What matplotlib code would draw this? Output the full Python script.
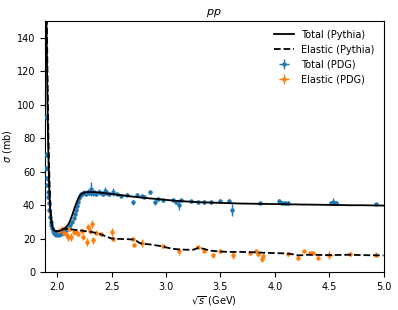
import matplotlib
matplotlib.use("Agg")
import matplotlib.pyplot as plt
import numpy as np

# Pythia curves
pythia_x = [1.895, 1.900, 1.905, 1.910, 1.915, 1.920, 1.925, 1.930, 1.935, 1.940,
            1.945, 1.950, 1.960, 1.970, 1.980, 1.990, 2.000, 2.020, 2.040, 2.060,
            2.080, 2.100, 2.120, 2.140, 2.160, 2.180, 2.200, 2.220, 2.240, 2.260,
            2.300, 2.350, 2.400, 2.450, 2.500, 2.550, 2.600, 2.650, 2.700, 2.730,
            2.760, 2.800, 2.850, 2.900, 2.950, 3.000, 3.050, 3.100, 3.150, 3.200,
            3.250, 3.300, 3.350, 3.400, 3.500, 3.600, 3.700, 3.800, 3.900, 4.000,
            4.100, 4.150, 4.200, 4.250, 4.300, 4.400, 4.500, 4.600, 4.700, 4.800,
            4.900, 5.000]
pythia_total = [200, 150, 125, 100, 80, 64, 52, 43, 37, 33,
                30, 28, 26, 25, 24.5, 24.3, 24.3, 24.5, 25.0, 25.8,
                26.8, 28.3, 31.0, 34.5, 38.5, 42.0, 44.8, 46.5, 47.3, 47.7,
                47.9, 47.7, 47.4, 47.0, 46.6, 46.2, 45.8, 45.4, 45.0, 44.8,
                44.6, 44.3, 44.0, 43.7, 43.4, 43.1, 42.8, 42.5, 42.3, 42.1,
                41.9, 41.7, 41.6, 41.5, 41.3, 41.1, 40.9, 40.8, 40.7, 40.6,
                40.5, 40.4, 40.4, 40.3, 40.3, 40.2, 40.1, 40.0, 39.9, 39.9,
                39.8, 39.7]
pythia_elastic = [230, 175, 145, 118, 95, 76, 62, 50, 42, 36,
                  32, 29, 26.5, 25.2, 24.6, 24.4, 24.4, 24.7, 25.2, 25.6,
                  25.8, 25.8, 25.6, 25.4, 25.2, 25.0, 24.9, 24.8, 24.6, 24.4,
                  24.1, 23.4, 22.5, 21.2, 20.0, 19.8, 19.7, 19.6, 19.4, 18.5,
                  17.2, 16.8, 16.5, 16.0, 15.5, 14.7, 14.0, 13.6, 13.4, 13.3,
                  13.3, 14.5, 13.8, 12.8, 12.2, 12.0, 12.0, 11.8, 11.5, 11.3,
                  11.1, 10.8, 10.0, 10.0, 10.3, 10.2, 10.1, 10.2, 10.3, 10.1,
                  10.0, 9.9]

# PDG total cross section
tot_x = [1.893, 1.897, 1.900, 1.903, 1.906, 1.910, 1.915, 1.920, 1.926, 1.932,
         1.938, 1.945, 1.952, 1.960, 1.970, 1.980, 1.990, 2.000, 2.010, 2.020,
         2.030, 2.045, 2.060, 2.075, 2.090, 2.105, 2.120, 2.135, 2.150, 2.160,
         2.170, 2.180, 2.190, 2.200, 2.210, 2.220, 2.235, 2.250, 2.265, 2.280,
         2.295, 2.310, 2.325, 2.340, 2.360, 2.380, 2.400, 2.420, 2.440, 2.460,
         2.480, 2.510, 2.550, 2.590, 2.640, 2.700, 2.730, 2.780, 2.800, 2.850,
         2.900, 2.930, 2.970, 3.060, 3.090, 3.120, 3.140, 3.230, 3.290, 3.350,
         3.410, 3.500, 3.580, 3.610, 3.860, 4.040, 4.070, 4.090, 4.120, 4.520,
         4.540, 4.560, 4.930]
tot_y = [92.5, 70, 62, 56, 52, 48, 45, 41, 37, 33,
         30, 28, 26, 24.5, 23.5, 23, 22.3, 22.5, 22.8, 22.3,
         23, 23.5, 24, 24.5, 25.5, 26.5, 28, 30, 32, 34.5,
         37, 39.5, 42, 44, 45.5, 46.5, 47, 47.5, 46.5, 48,
         47, 49.5, 47, 47.8, 46.5, 48, 47, 46.8, 48.5, 47.5,
         46.5, 47.7, 46.5, 45.7, 46.2, 41.8, 46.2, 45.3, 45.0, 47.7,
         41.8, 43.8, 42.8, 43.3, 41.8, 39.8, 42.8, 42.2, 41.8, 41.8,
         41.8, 42.2, 42.2, 37.0, 41.5, 42.4, 41.5, 41.2, 41.2, 41.0,
         42.0, 41.2, 40.6]
tot_yerr = [1.5, 1.5, 1.5, 1.5, 1.2, 1.2, 1.2, 1.0, 1.0, 1.0,
            1.0, 1.0, 1.0, 1.0, 1.0, 1.0, 1.0, 1.0, 1.0, 1.0,
            1.0, 1.0, 1.0, 1.0, 1.0, 1.0, 1.0, 1.0, 1.0, 1.0,
            1.0, 1.2, 1.2, 1.2, 1.2, 1.2, 1.5, 1.5, 1.2, 1.5,
            1.2, 4.0, 1.5, 1.5, 1.2, 1.5, 1.2, 1.2, 2.5, 1.5,
            1.2, 2.5, 1.0, 1.0, 1.0, 1.5, 1.0, 1.0, 1.0, 1.0,
            1.5, 1.0, 1.0, 1.0, 1.0, 3.0, 1.0, 1.0, 1.0, 1.0,
            1.0, 1.2, 1.2, 3.5, 0.8, 1.0, 1.0, 1.0, 1.0, 1.2,
            2.0, 1.2, 0.8]
tot_xerr = [0.002] * 79 + [0.02, 0.03, 0.02, 0.01]

# PDG elastic cross section
el_x = [2.020, 2.040, 2.060, 2.080, 2.095, 2.110, 2.130, 2.150, 2.175, 2.190,
        2.225, 2.240, 2.270, 2.285, 2.305, 2.320, 2.330, 2.355, 2.400, 2.500,
        2.510, 2.700, 2.710, 2.780, 2.970, 3.115, 3.295, 3.350, 3.430, 3.500,
        3.620, 3.770, 3.830, 3.850, 3.880, 3.895, 4.120, 4.210, 4.270, 4.320,
        4.350, 4.400, 4.500, 4.690, 4.930]
el_y = [24.8, 25.9, 23.5, 22.9, 20.9, 25.9, 20.9, 23.9, 24.0, 22.9,
        24.5, 20.9, 17.9, 26.9, 24.8, 28.5, 18.9, 23.5, 22.8, 23.9,
        20.0, 19.7, 16.3, 17.2, 15.5, 12.3, 14.7, 12.8, 10.0, 12.3,
        10.0, 11.3, 12.3, 10.5, 8.0, 9.5, 11.0, 8.6, 12.3, 11.5,
        11.5, 8.5, 10.0, 11.0, 10.3]
el_yerr = [1.5, 1.5, 1.5, 2.0, 2.5, 1.5, 2.5, 1.5, 1.5, 1.5,
           1.5, 2.0, 2.5, 2.0, 2.0, 2.5, 2.0, 1.5, 1.0, 2.5,
           1.5, 1.0, 1.0, 2.5, 1.0, 2.0, 1.0, 1.0, 1.5, 1.0,
           2.0, 1.0, 1.0, 1.0, 2.0, 1.0, 1.0, 1.0, 1.0, 1.0,
           1.0, 1.0, 2.5, 1.0, 1.5]
el_xerr = [0.003] * 42 + [0.04, 0.01, 0.02]

x_ticks = [2.0, 2.5, 3.0, 3.5, 4.0, 4.5, 5.0]
y_ticks = [0, 20, 40, 60, 80, 100, 120, 140]

plt.rcParams['font.family'] = ['DejaVu Sans']
plt.rcParams['font.size'] = 7

fig = plt.figure(figsize=(3.98, 3.10), dpi=100)
ax = fig.add_axes([45 / 398, 38 / 310, 338.5 / 398, 251 / 310])

ax.plot(pythia_x, pythia_total, color='black', lw=1.3, label='Total (Pythia)', zorder=4)
ax.plot(pythia_x, pythia_elastic, color='black', lw=1.3, ls='--', label='Elastic (Pythia)', zorder=4)
ax.errorbar(tot_x, tot_y, yerr=tot_yerr, xerr=tot_xerr, fmt='o', ms=2.2,
            color='C0', elinewidth=1, label='Total (PDG)', zorder=3)
ax.errorbar(el_x, el_y, yerr=el_yerr, xerr=el_xerr, fmt='o', ms=2.2,
            color='C1', elinewidth=1, label='Elastic (PDG)', zorder=3)

ax.set_xlim(1.887, 5.0)
ax.set_ylim(0, 150)
ax.set_xticks(x_ticks)
ax.set_yticks(y_ticks)
ax.set_xlabel(r'$\sqrt{s}$ (GeV)', labelpad=2)
ax.set_ylabel(r'$\sigma$ (mb)', labelpad=2)
ax.set_title(r'$pp$', fontsize=8, pad=4)
ax.legend(loc='upper right', frameon=False, fontsize=7)

fig.savefig('out.png', dpi=100)
